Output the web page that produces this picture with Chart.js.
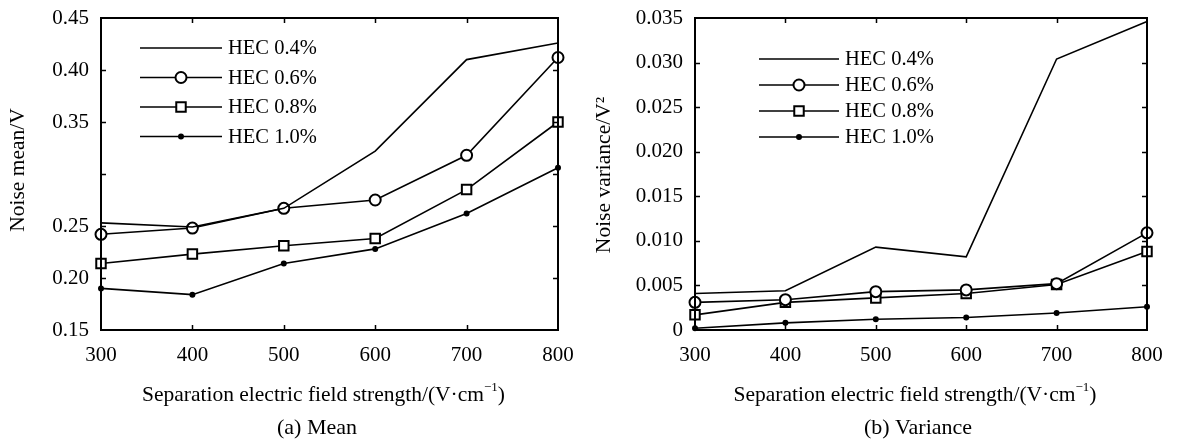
<!DOCTYPE html>
<html>
<head>
<meta charset="utf-8">
<script src="https://cdn.jsdelivr.net/npm/chart.js@4.4.1/dist/chart.umd.min.js"></script>
<style>
    body { margin: 0; background: #fff; width: 1177px; height: 440px; overflow: hidden; position: relative; }
    canvas { position: absolute; top: 0; }
</style>
</head>
<body>
<canvas id="meanChart" width="585" height="440" style="left:0"></canvas>
<canvas id="varChart" width="592" height="440" style="left:585px"></canvas>
<script>
// ---- data ----
const fieldStrength = [300, 400, 500, 600, 700, 800];
const seriesNames = ["HEC 0.4%", "HEC 0.6%", "HEC 0.8%", "HEC 1.0%"];

const mean04 = [0.253, 0.249, 0.267, 0.322, 0.410, 0.426];
const mean06 = [0.242, 0.248, 0.267, 0.275, 0.318, 0.412];
const mean08 = [0.214, 0.223, 0.231, 0.238, 0.285, 0.350];
const mean10 = [0.190, 0.184, 0.214, 0.228, 0.262, 0.306];

const var04 = [0.0041, 0.0044, 0.0093, 0.0082, 0.0304, 0.0346];
const var06 = [0.0031, 0.0034, 0.0043, 0.0045, 0.0052, 0.0109];
const var08 = [0.0017, 0.0031, 0.0036, 0.0041, 0.0051, 0.0088];
const var10 = [0.0002, 0.0008, 0.0012, 0.0014, 0.0019, 0.0026];

const meanTickValues = [0.15, 0.20, 0.25, 0.30, 0.35, 0.40, 0.45];
const meanTickLabels = ["0.15", "0.20", "0.25", "", "0.35", "0.40", "0.45"];
const varTickValues = [0, 0.005, 0.01, 0.015, 0.02, 0.025, 0.03, 0.035];
const varTickLabels = ["0", "0.005", "0.010", "0.015", "0.020", "0.025", "0.030", "0.035"];

const FONT = "'Liberation Serif', 'Times New Roman', serif";

// marker look per series: plain line, open circle, open square, small dot
const markerStyles = [
    { pointStyle: "circle", pointRadius: 0 },
    { pointStyle: "circle", pointRadius: 5.5 },
    { pointStyle: "rect", pointRadius: 6.7 },
    { pointStyle: "circle", pointRadius: 2, pointBackgroundColor: "#000" },
];

function makeDatasets(seriesList) {
    return seriesList.map((vals, i) => ({
        label: seriesNames[i],
        data: vals.map((v, k) => ({ x: fieldStrength[k], y: v })),
        borderColor: "#000",
        borderWidth: 1.6,
        pointBorderColor: "#000",
        pointBorderWidth: 2,
        pointBackgroundColor: "#fff",
        pointHoverRadius: 0,
        tension: 0,
        clip: false,
        ...markerStyles[i],
    }));
}

// box frame with inward ticks, legend inside plot, axis titles, caption
const decor = {
    id: "decor",
    afterDraw(chart, args, o) {
        const ctx = chart.ctx;
        const a = chart.chartArea;
        const xs = chart.scales.x;
        const ys = chart.scales.y;
        const t = 5;
        ctx.save();
        ctx.strokeStyle = "#000";
        ctx.lineWidth = 2;
        ctx.strokeRect(a.left, a.top, a.right - a.left, a.bottom - a.top);
        ctx.lineWidth = 1.5;
        ctx.beginPath();
        xs.ticks.forEach((tk) => {
            const px = Math.round(xs.getPixelForValue(tk.value)) + 0.5;
            if (px <= a.left + 2 || px >= a.right - 2) return;
            ctx.moveTo(px, a.bottom); ctx.lineTo(px, a.bottom - t);
            ctx.moveTo(px, a.top); ctx.lineTo(px, a.top + t);
        });
        ys.ticks.forEach((tk) => {
            const py = Math.round(ys.getPixelForValue(tk.value)) + 0.5;
            if (py <= a.top + 2 || py >= a.bottom - 2) return;
            ctx.moveTo(a.left, py); ctx.lineTo(a.left + t, py);
            ctx.moveTo(a.right, py); ctx.lineTo(a.right - t, py);
        });
        ctx.stroke();

        // legend
        const lg = o.legend;
        ctx.font = "20.5px " + FONT;
        ctx.fillStyle = "#000";
        ctx.textBaseline = "middle";
        ctx.textAlign = "left";
        chart.data.datasets.forEach((ds, i) => {
            const y = a.top + lg.top + i * lg.step;
            const x0 = a.left + lg.left;
            const x1 = x0 + lg.len;
            const xm = (x0 + x1) / 2;
            ctx.lineWidth = ds.borderWidth;
            ctx.beginPath();
            ctx.moveTo(x0, y); ctx.lineTo(x1, y);
            ctx.stroke();
            const r = ds.pointRadius;
            if (r > 0) {
                ctx.lineWidth = ds.pointBorderWidth;
                ctx.fillStyle = ds.pointBackgroundColor;
                ctx.beginPath();
                if (ds.pointStyle === "rect") {
                    const h = r * Math.SQRT1_2;
                    ctx.rect(xm - h, y - h, 2 * h, 2 * h);
                } else {
                    ctx.arc(xm, y, r, 0, Math.PI * 2);
                }
                ctx.fill();
                ctx.stroke();
                ctx.fillStyle = "#000";
            }
            ctx.fillText(ds.label, x1 + 6, y + 1);
        });

        // x title with superscript
        const cx = (a.left + a.right) / 2 - 6;
        const main = "Separation electric field strength/(V\u00B7cm";
        ctx.font = "21.5px " + FONT;
        const wMain = ctx.measureText(main).width;
        ctx.font = "13px " + FONT;
        const wSup = ctx.measureText("\u22121").width;
        ctx.font = "21.5px " + FONT;
        const wEnd = ctx.measureText(")").width;
        let x = cx - (wMain + wSup + wEnd) / 2;
        const ty = o.titleY;
        ctx.fillText(main, x, ty);
        x += wMain;
        ctx.font = "13px " + FONT;
        ctx.fillText("\u22121", x, ty - 7);
        x += wSup;
        ctx.font = "21.5px " + FONT;
        ctx.fillText(")", x, ty);

        // caption
        ctx.font = "22px " + FONT;
        ctx.textAlign = "center";
        ctx.fillText(o.caption, o.captionX, o.captionY);

        // y title
        ctx.font = "21.5px " + FONT;
        ctx.save();
        ctx.translate(o.yTitleX, o.yTitleY);
        ctx.rotate(-Math.PI / 2);
        ctx.fillText(o.yTitle, 0, 0);
        ctx.restore();

        ctx.restore();
    },
};

function buildChart(id, seriesList, yMin, yMax, tickValues, tickLabels, yWidth, rightPad, deco) {
    return new Chart(document.getElementById(id).getContext("2d"), {
        type: "line",
        data: { datasets: makeDatasets(seriesList) },
        plugins: [decor],
        options: {
            responsive: false,
            animation: false,
            devicePixelRatio: 1,
            layout: { padding: { top: 18, right: rightPad, left: 0, bottom: 0 } },
            plugins: {
                legend: { display: false },
                tooltip: { enabled: false },
                decor: deco,
            },
            scales: {
                x: {
                    type: "linear",
                    min: fieldStrength[0],
                    max: fieldStrength[fieldStrength.length - 1],
                    afterBuildTicks: (s) => { s.ticks = fieldStrength.map((v) => ({ value: v })); },
                    afterFit: (s) => { s.height = 110; },
                    grid: { display: false },
                    border: { display: false },
                    ticks: {
                        color: "#000",
                        font: { family: FONT, size: 21 },
                        padding: 5,
                        maxRotation: 0,
                        callback: (v) => String(v),
                    },
                },
                y: {
                    min: yMin,
                    max: yMax,
                    afterBuildTicks: (s) => { s.ticks = tickValues.map((v) => ({ value: v })); },
                    afterFit: (s) => { s.width = yWidth; },
                    grid: { display: false },
                    border: { display: false },
                    ticks: {
                        color: "#000",
                        font: { family: FONT, size: 21 },
                        padding: 4,
                        callback: function (v, idx) { return tickLabels[idx]; },
                    },
                },
            },
        },
    });
}

buildChart("meanChart", [mean04, mean06, mean08, mean10], 0.15, 0.45,
    meanTickValues, meanTickLabels, 101, 27, {
        legend: { left: 39, top: 30, step: 29.5, len: 82 },
        titleY: 395,
        caption: "(a) Mean",
        captionX: 317,
        captionY: 428,
        yTitle: "Noise mean/V",
        yTitleX: 18,
        yTitleY: 170,
    });

buildChart("varChart", [var04, var06, var08, var10], 0, 0.035,
    varTickValues, varTickLabels, 110, 30, {
        legend: { left: 64, top: 41, step: 26, len: 80 },
        titleY: 395,
        caption: "(b) Variance",
        captionX: 333,
        captionY: 428,
        yTitle: "Noise variance/V\u00B2",
        yTitleX: 19,
        yTitleY: 175,
    });
</script>
</body>
</html>
